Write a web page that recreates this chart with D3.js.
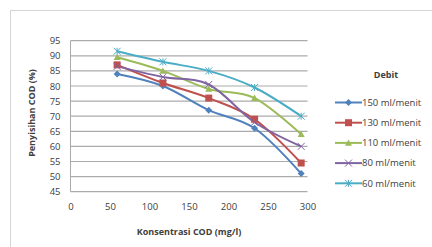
<!DOCTYPE html>
<html>
<head>
<meta charset="utf-8">
<script src="https://cdn.jsdelivr.net/npm/d3@7"></script>
<style>
  body { margin: 0; background: #fff; }
  text { font-family: "Open Sans", sans-serif; fill: #404040; }
</style>
</head>
<body>
<div id="chart"></div>
<script>
// Data
const konsentrasi = [59, 117, 175, 233, 292];
const debit = ["150 ml/menit", "130 ml/menit", "110 ml/menit", "80 ml/menit", "60 ml/menit"];
const d150 = [84, 80, 72, 66, 51];
const d130 = [87, 81, 76, 69, 54.5];
const d110 = [89.5, 85, 79, 76, 64];
const d80 = [86.5, 83, 80.5, 68, 60];
const d60 = [91.5, 88, 85, 79.5, 70];
const yTicks = [45, 50, 55, 60, 65, 70, 75, 80, 85, 90, 95];
const xTicks = [0, 50, 100, 150, 200, 250, 300];

const series = [
  { name: debit[0], values: d150, color: "#4F81BD", marker: "diamond" },
  { name: debit[1], values: d130, color: "#C0504D", marker: "square" },
  { name: debit[2], values: d110, color: "#9BBB59", marker: "triangle" },
  { name: debit[3], values: d80, color: "#8064A2", marker: "x" },
  { name: debit[4], values: d60, color: "#4BACC6", marker: "star" }
];

const width = 432, height = 247;
const svg = d3.select("#chart").append("svg")
  .attr("width", width).attr("height", height);

// borde del área del gráfico
svg.append("rect")
  .attr("x", 10.5).attr("y", 10.5)
  .attr("width", 440).attr("height", 260)
  .attr("fill", "none").attr("stroke", "#d4d4d4");

const x = d3.scaleLinear().domain([0, 300]).range([70.5, 307.5]);
const y = d3.scaleLinear().domain([45, 95]).range([191.7, 40.7]);

// gridlines
svg.append("g")
  .selectAll("line")
  .data(yTicks)
  .enter().append("line")
  .attr("x1", x(0)).attr("x2", x(300))
  .attr("y1", d => y(d)).attr("y2", d => y(d))
  .attr("stroke", "#ababab").attr("stroke-width", 1.2);

// eje y
svg.append("line")
  .attr("x1", x(0)).attr("x2", x(0))
  .attr("y1", y(45)).attr("y2", y(95))
  .attr("stroke", "#ababab");

svg.append("g")
  .attr("transform", `translate(${x(0)},0)`)
  .call(d3.axisLeft(y).tickValues(yTicks).tickSize(0).tickPadding(10))
  .call(g => g.select(".domain").remove())
  .call(g => g.selectAll("text").attr("font-size", 9.5).attr("fill", "#595959")
    .style("font-family", "'Open Sans', sans-serif"));

svg.append("g")
  .attr("transform", `translate(0,${y(45)})`)
  .call(d3.axisBottom(x).tickValues(xTicks).tickSize(0).tickPadding(12))
  .call(g => g.select(".domain").remove())
  .call(g => g.selectAll("text").attr("font-size", 9.5).attr("fill", "#595959")
    .style("font-family", "'Open Sans', sans-serif"));

// titulos de ejes
svg.append("text")
  .attr("x", 189).attr("y", 235)
  .attr("text-anchor", "middle")
  .attr("font-size", 9).attr("font-weight", "bold")
  .text("Konsentrasi COD (mg/l)");

svg.append("text")
  .attr("transform", "translate(35,113) rotate(-90)")
  .attr("text-anchor", "middle")
  .attr("font-size", 9).attr("font-weight", "bold")
  .text("Penyisihan COD (%)");

const line = d3.line()
  .x((d, i) => x(konsentrasi[i]))
  .y(d => y(d))
  .curve(d3.curveCatmullRom.alpha(0));

function drawMarker(g, type, color, cx, cy) {
  const s = 3.5;
  if (type === "diamond") {
    g.append("path").attr("d", `M${cx},${cy - s}L${cx + s},${cy}L${cx},${cy + s}L${cx - s},${cy}Z`)
      .attr("fill", color);
  } else if (type === "square") {
    g.append("rect").attr("x", cx - s).attr("y", cy - s).attr("width", 2 * s).attr("height", 2 * s)
      .attr("fill", color);
  } else if (type === "triangle") {
    g.append("path").attr("d", `M${cx},${cy - s}L${cx + s},${cy + s * 0.8}L${cx - s},${cy + s * 0.8}Z`)
      .attr("fill", color);
  } else if (type === "x") {
    g.append("path").attr("d", `M${cx - s},${cy - s}L${cx + s},${cy + s}M${cx - s},${cy + s}L${cx + s},${cy - s}`)
      .attr("stroke", color).attr("stroke-width", 1).attr("fill", "none");
  } else {
    g.append("path").attr("d", `M${cx - s},${cy - s}L${cx + s},${cy + s}M${cx - s},${cy + s}L${cx + s},${cy - s}M${cx},${cy - s}L${cx},${cy + s}`)
      .attr("stroke", color).attr("stroke-width", 1).attr("fill", "none");
  }
}

series.forEach(s => {
  svg.append("path")
    .datum(s.values)
    .attr("d", line)
    .attr("fill", "none")
    .attr("stroke", s.color)
    .attr("stroke-width", 2);
});

series.forEach(s => {
  const g = svg.append("g");
  s.values.forEach((v, i) => drawMarker(g, s.marker, s.color, x(konsentrasi[i]), y(v)));
});

// leyenda
svg.append("text")
  .attr("x", 386).attr("y", 78)
  .attr("text-anchor", "middle")
  .attr("font-size", 9).attr("font-weight", "bold")
  .text("Debit");

series.forEach((s, i) => {
  const ly = 102.5 + i * 20.2;
  const g = svg.append("g");
  g.append("line")
    .attr("x1", 335).attr("x2", 362)
    .attr("y1", ly).attr("y2", ly)
    .attr("stroke", s.color).attr("stroke-width", 2);
  drawMarker(g, s.marker, s.color, 348.5, ly);
  g.append("text")
    .attr("x", 362).attr("y", ly + 3.3)
    .attr("font-size", 9.5)
    .text(s.name);
});
</script>
</body>
</html>
